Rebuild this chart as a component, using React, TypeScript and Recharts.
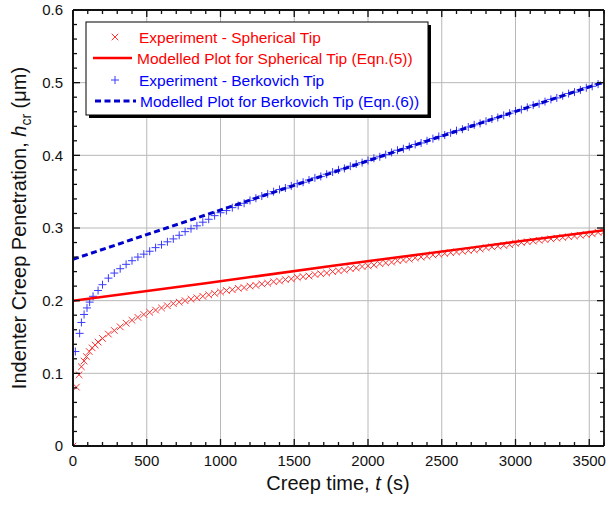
import { ComposedChart, Scatter, XAxis, YAxis, ReferenceLine } from "recharts";

// Spherical tip experiment (red x): early sparse readings, then dense band
const SPH_EARLY_T = [0, 23, 41, 57, 75, 91, 110, 130, 150, 170];
const SPH_EARLY_H = [0, 0.081, 0.098, 0.109, 0.117, 0.123, 0.13, 0.135, 0.139, 0.143];

// Berkovich tip experiment (blue +)
const BERK_EARLY_T = [0, 16, 45, 57, 75, 95, 113, 136, 170];
const BERK_EARLY_H = [0, 0.13, 0.155, 0.17, 0.181, 0.19, 0.198, 0.206, 0.214];

const DENSE_T = [
  200, 240, 280, 320, 360, 400, 440, 480, 520, 560,
  600, 640, 680, 720, 760, 800, 840, 880, 920, 960,
  1000, 1040, 1080, 1120, 1160, 1200, 1240, 1280, 1320, 1360,
  1400, 1440, 1480, 1520, 1560, 1600, 1640, 1680, 1720, 1760,
  1800, 1840, 1880, 1920, 1960, 2000, 2040, 2080, 2120, 2160,
  2200, 2240, 2280, 2320, 2360, 2400, 2440, 2480, 2520, 2560,
  2600, 2640, 2680, 2720, 2760, 2800, 2840, 2880, 2920, 2960,
  3000, 3040, 3080, 3120, 3160, 3200, 3240, 3280, 3320, 3360,
  3400, 3440, 3480, 3520, 3560, 3600,
];

const SPH_DENSE_H = [
  0.148, 0.154, 0.159, 0.164, 0.169, 0.173, 0.177, 0.181, 0.184, 0.187,
  0.19, 0.193, 0.196, 0.198, 0.2, 0.202, 0.204, 0.206, 0.208, 0.21,
  0.212, 0.214, 0.215, 0.217, 0.218, 0.22, 0.221, 0.223, 0.224, 0.226,
  0.227, 0.229, 0.23, 0.232, 0.233, 0.234, 0.236, 0.237, 0.238, 0.24,
  0.241, 0.242, 0.244, 0.245, 0.247, 0.248, 0.249, 0.251, 0.252, 0.253,
  0.255, 0.256, 0.257, 0.259, 0.26, 0.261, 0.263, 0.264, 0.265, 0.266,
  0.267, 0.268, 0.269, 0.27, 0.271, 0.273, 0.274, 0.275, 0.276, 0.277,
  0.279, 0.28, 0.281, 0.282, 0.283, 0.284, 0.285, 0.286, 0.287, 0.288,
  0.289, 0.29, 0.291, 0.292, 0.294, 0.295,
];

const BERK_DENSE_H = [
  0.222, 0.231, 0.238, 0.244, 0.25, 0.255, 0.26, 0.264, 0.268, 0.273,
  0.277, 0.281, 0.285, 0.29, 0.295, 0.299, 0.303, 0.308, 0.312, 0.317,
  0.321, 0.324, 0.328, 0.331, 0.334, 0.338, 0.341, 0.344, 0.347, 0.35,
  0.353, 0.355, 0.358, 0.361, 0.363, 0.366, 0.369, 0.371, 0.374, 0.377,
  0.38, 0.382, 0.385, 0.388, 0.39, 0.393, 0.396, 0.398, 0.401, 0.404,
  0.407, 0.409, 0.412, 0.415, 0.417, 0.42, 0.423, 0.426, 0.428, 0.431,
  0.434, 0.436, 0.439, 0.442, 0.444, 0.447, 0.45, 0.452, 0.455, 0.458,
  0.461, 0.463, 0.466, 0.469, 0.471, 0.474, 0.477, 0.479, 0.482, 0.485,
  0.487, 0.49, 0.493, 0.495, 0.498, 0.5,
];

// modelled curves (Eqn. 5 and Eqn. 6)
const MODEL_T = [0, 900, 1800, 2700, 3600];
const SPH_MODEL_H = [0.2, 0.224, 0.249, 0.273, 0.297];
const BERK_MODEL_H = [0.257, 0.318, 0.379, 0.44, 0.501];

const X_TICKS = [
  0, 100, 200, 300, 400, 500, 600, 700, 800, 900,
  1000, 1100, 1200, 1300, 1400, 1500, 1600, 1700, 1800, 1900,
  2000, 2100, 2200, 2300, 2400, 2500, 2600, 2700, 2800, 2900,
  3000, 3100, 3200, 3300, 3400, 3500, 3600,
];
const X_GRID = [500, 1000, 1500, 2000, 2500, 3000, 3500];
const Y_TICKS = [
  0, 0.02, 0.04, 0.06, 0.08, 0.1, 0.12, 0.14, 0.16, 0.18,
  0.2, 0.22, 0.24, 0.26, 0.28, 0.3, 0.32, 0.34, 0.36, 0.38,
  0.4, 0.42, 0.44, 0.46, 0.48, 0.5, 0.52, 0.54, 0.56, 0.58, 0.6,
];
const Y_GRID = [0.1, 0.2, 0.3, 0.4, 0.5];

const X_MAX = 3600;
const Y_MAX = 0.6;

// chart box
const W = 612;
const H = 505;
const M = { top: 10, right: 8, bottom: 59, left: 73 };
const PL = M.left;
const PR = W - M.right;
const PT = M.top;
const PB = H - M.bottom;
const px = (v: number) => PL + (v / X_MAX) * (PR - PL);
const py = (v: number) => PB - (v / Y_MAX) * (PB - PT);

const zip = (ts: number[], hs: number[]) => ts.map((t, i) => ({ t, h: hs[i] }));
const sphData = zip([...SPH_EARLY_T, ...DENSE_T], [...SPH_EARLY_H, ...SPH_DENSE_H]);
const berkData = zip([...BERK_EARLY_T, ...DENSE_T], [...BERK_EARLY_H, ...BERK_DENSE_H]);
const sphModel = zip(MODEL_T, SPH_MODEL_H);
const berkModel = zip(MODEL_T, BERK_MODEL_H);

const FONT = "'Liberation Sans', Arial, sans-serif";
const RED = "#ff0000";
const BLUE = "#0000ff";
const INK = "#111111";

const isMajorX = (v: number) => v % 500 === 0;
const isMajorY = (v: number) => Math.round(v * 100) % 10 === 0;

function Cross({ cx, cy }: any) {
  const r = 3.3;
  return (
    <g stroke="#ff3030" strokeWidth={1}>
      <line x1={cx - r} y1={cy - r} x2={cx + r} y2={cy + r} />
      <line x1={cx - r} y1={cy + r} x2={cx + r} y2={cy - r} />
    </g>
  );
}

function Plus({ cx, cy }: any) {
  const r = 4;
  return (
    <g stroke="#3a3aff" strokeWidth={1}>
      <line x1={cx - r} y1={cy} x2={cx + r} y2={cy} />
      <line x1={cx} y1={cy - r} x2={cx} y2={cy + r} />
    </g>
  );
}

const NoDot = () => <g />;

function BottomTick({ x, y, payload }: any) {
  if (!isMajorX(payload.value)) return <g />;
  return (
    <text x={x} y={y + 9} dy="0.71em" textAnchor="middle" fontSize={15} fontFamily={FONT} fill={INK}>
      {payload.value}
    </text>
  );
}

function LeftTick({ x, y, payload }: any) {
  if (!isMajorY(payload.value)) return <g />;
  return (
    <text x={x - 10} y={y} dy="0.36em" textAnchor="end" fontSize={15} fontFamily={FONT} fill={INK}>
      {Number(payload.value.toFixed(1))}
    </text>
  );
}

// frame with inward ticks on all four sides, plain svg
function frameLines() {
  const out: any[] = [];
  out.push(<line key="fT" x1={PL} y1={PT} x2={PR} y2={PT} stroke={INK} strokeWidth={1.8} />);
  out.push(<line key="fR" x1={PR} y1={PT} x2={PR} y2={PB} stroke={INK} strokeWidth={1.8} />);
  out.push(<line key="fB" x1={PL} y1={PB} x2={PR} y2={PB} stroke={INK} strokeWidth={1.8} />);
  out.push(<line key="fL" x1={PL} y1={PT} x2={PL} y2={PB} stroke={INK} strokeWidth={1.8} />);
  X_TICKS.forEach((v) => {
    const len = isMajorX(v) ? 7 : 4;
    out.push(<line key={"xb" + v} x1={px(v)} y1={PB} x2={px(v)} y2={PB - len} stroke={INK} strokeWidth={1.3} />);
    out.push(<line key={"xt" + v} x1={px(v)} y1={PT} x2={px(v)} y2={PT + len} stroke={INK} strokeWidth={1.3} />);
  });
  Y_TICKS.forEach((v) => {
    const len = isMajorY(v) ? 7 : 4;
    out.push(<line key={"yl" + v} x1={PL} y1={py(v)} x2={PL + len} y2={py(v)} stroke={INK} strokeWidth={1.3} />);
    out.push(<line key={"yr" + v} x1={PR} y1={py(v)} x2={PR - len} y2={py(v)} stroke={INK} strokeWidth={1.3} />);
  });
  return out;
}

export default function App() {
  const ax = { xAxisId: "main", yAxisId: "main" };
  return (
    <div style={{ position: "absolute", left: 0, top: 0, width: W, height: H, background: "#fff" }}>
      <ComposedChart width={W} height={H} margin={{ top: M.top, right: M.right, bottom: 0, left: 0 }}>
        <XAxis xAxisId="main" dataKey="t" type="number" domain={[0, X_MAX]} ticks={X_TICKS}
          interval={0} allowDataOverflow height={M.bottom} tickSize={0} tickMargin={0}
          tickLine={false} axisLine={{ stroke: INK, strokeWidth: 1.5 }} tick={<BottomTick />} />
        <YAxis yAxisId="main" dataKey="h" type="number" domain={[0, Y_MAX]} ticks={Y_TICKS}
          interval={0} allowDataOverflow width={M.left} tickSize={0} tickMargin={0}
          tickLine={false} axisLine={{ stroke: INK, strokeWidth: 1.5 }} tick={<LeftTick />} />

        {X_GRID.map((v) => (
          <ReferenceLine key={"gx" + v} {...ax} x={v} stroke="#b8b8b8" strokeWidth={1} />
        ))}
        {Y_GRID.map((v) => (
          <ReferenceLine key={"gy" + v} {...ax} y={v} stroke="#b8b8b8" strokeWidth={1} />
        ))}

        <Scatter name="Experiment - Spherical Tip" data={sphData} {...ax}
          dataKey="h" shape={<Cross />} isAnimationActive={false} />
        <Scatter name="Experiment - Berkovich Tip" data={berkData} {...ax}
          dataKey="h" shape={<Plus />} isAnimationActive={false} />
        <Scatter name="Modelled Plot for Spherical Tip" data={sphModel} {...ax}
          dataKey="h" shape={<NoDot />} line={{ stroke: RED, strokeWidth: 2.5 }} isAnimationActive={false} />
        <Scatter name="Modelled Plot for Berkovich Tip" data={berkModel} {...ax}
          dataKey="h" shape={<NoDot />} line={{ stroke: "#0000cc", strokeWidth: 3, strokeDasharray: "6 3.5" }}
          isAnimationActive={false} />
      </ComposedChart>

      {/* overlay: frame, legend and axis titles */}
      <svg width={W} height={H} style={{ position: "absolute", left: 0, top: 0, pointerEvents: "none" }}
        fontFamily={FONT}>
        {frameLines()}

        <rect x={89} y={25} width={342} height={93} fill="#000" />
        <rect x={86} y={22} width={342} height={93} fill="#fff" stroke="#000" strokeWidth={1} />
        <Cross cx={115} cy={37} />
        <text x={139} y={37} dy="0.36em" fontSize={15.5} fill={RED}>Experiment - Spherical Tip</text>
        <line x1={93} y1={58} x2={132} y2={58} stroke={RED} strokeWidth={2.5} />
        <text x={137} y={58} dy="0.36em" fontSize={15.5} fill={RED}>Modelled Plot for Spherical Tip (Eqn.(5))</text>
        <Plus cx={115} cy={80} />
        <text x={139} y={80} dy="0.36em" fontSize={15.5} fill={BLUE}>Experiment - Berkovich Tip</text>
        <line x1={95} y1={101} x2={136} y2={101} stroke="#0000cc" strokeWidth={3} strokeDasharray="6 3.5" />
        <text x={140} y={101} dy="0.36em" fontSize={15.5} fill={BLUE}>Modelled Plot for Berkovich Tip (Eqn.(6))</text>

        <text x={338} y={490} textAnchor="middle" fontSize={20} fill={INK}>
          Creep time, <tspan fontStyle="italic">t</tspan> (s)
        </text>
        <text transform="translate(26,228) rotate(-90)" textAnchor="middle" fontSize={20} fill={INK}>
          Indenter Creep Penetration, <tspan fontStyle="italic">h</tspan>
          <tspan fontSize={14} dy={5}>cr</tspan>
          <tspan dy={-5}> (μm)</tspan>
        </text>
      </svg>
    </div>
  );
}
